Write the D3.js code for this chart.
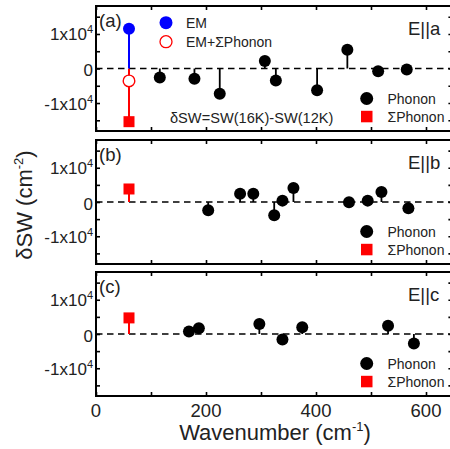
<!DOCTYPE html>
<html><head><meta charset="utf-8">
<script src="https://cdn.jsdelivr.net/npm/d3@7"></script>
<style>body{margin:0;background:#fff}svg{display:block;font-family:"Liberation Sans",Arial,sans-serif}</style>
</head><body>
<svg id="c" width="450" height="449"></svg>
<script>
// Data (values in units of 1e4 cm^-2)
const xTickValues = [0, 200, 400, 600];
const yTickLabels = ["-1x10", "0", "1x10"];
const yTickValues = [-1, 0, 1];
const panelLabels = ["(a)", "(b)", "(c)"];
const polLabels = ["E||a", "E||b", "E||c"];
const phononXa = [116, 179, 225, 307, 327, 402, 457, 513, 565];
const phononYa = [-0.26, -0.30, -0.73, 0.22, -0.35, -0.63, 0.54, -0.08, -0.03];
const phononXb = [204, 262, 286, 324, 339, 359, 460, 494, 519, 568];
const phononYb = [-0.24, 0.24, 0.24, -0.39, 0.04, 0.41, -0.01, 0.04, 0.29, -0.18];
const phononXc = [169, 187, 297, 339, 375, 531, 578];
const phononYc = [0.07, 0.17, 0.29, -0.16, 0.20, 0.24, -0.28];
const sumX = 60;
const sumPhonon = [-1.54, 0.38, 0.47];
const emValue = 1.15;
const emPlusValue = -0.36;

const svg = d3.select("#c");
const x = d3.scaleLinear().domain([0, 648]).range([96, 452.4]);
const panels = [
  {top: 6, bottom: 131, px: phononXa, py: phononYa},
  {top: 140, bottom: 264, px: phononXb, py: phononYb},
  {top: 272, bottom: 396, px: phononXc, py: phononYc}
];
const red = "#ff0000", blue = "#0000ff";

panels.forEach((p, i) => {
  const y = d3.scaleLinear().domain([-1.81, 1.81]).range([p.bottom, p.top]);
  const g = svg.append("g");
  g.append("line").attr("x1", x(0)).attr("x2", x(648)).attr("y1", y(0)).attr("y2", y(0))
    .attr("stroke", "#000").attr("stroke-width", 1.6).attr("stroke-dasharray", "6.5,4.5");
  const minorY = d3.range(-1.5, 1.51, 0.5);
  const axL = d3.axisLeft(y).tickValues(minorY).tickSize(-4).tickFormat("");
  const axR = d3.axisRight(y).tickValues(minorY).tickSize(-4).tickFormat("");
  const minorX = d3.range(0, 648, 100);
  const axB = d3.axisBottom(x).tickValues(minorX).tickSize(-4).tickFormat("");
  const axT = d3.axisTop(x).tickValues(minorX).tickSize(-4).tickFormat("");
  [[axL, `translate(${x(0)},0)`], [axR, `translate(${x(648)},0)`],
   [axB, `translate(0,${p.bottom})`], [axT, `translate(0,${p.top})`]].forEach(([ax, tr]) => {
    const a = g.append("g").attr("transform", tr).call(ax);
    a.select(".domain").remove();
    a.selectAll("line").attr("stroke", "#000").attr("stroke-width", 1.6);
  });
  g.append("rect").attr("x", x(0)).attr("y", p.top).attr("width", x(648) - x(0)).attr("height", p.bottom - p.top)
    .attr("fill", "none").attr("stroke", "#000").attr("stroke-width", 2);
  yTickValues.forEach((v, k) => {
    const t = g.append("text").attr("x", 93).attr("y", y(v) + (v === 0 ? 7.5 : 6.5))
      .attr("text-anchor", "end").attr("font-size", 17).attr("fill", "#222").text(yTickLabels[k]);
    if (v !== 0) t.append("tspan").attr("dy", -7).attr("font-size", 11).text("4");
  });
  g.append("text").attr("x", 99).attr("y", p.top + 21).attr("font-size", 18.5).attr("fill", "#222").text(panelLabels[i]);
  g.append("text").attr("x", 408).attr("y", p.top + 29).attr("font-size", 18.5).attr("fill", "#222").text(polLabels[i]);
  p.px.forEach((xv, k) => {
    g.append("line").attr("x1", x(xv)).attr("x2", x(xv)).attr("y1", y(0)).attr("y2", y(p.py[k]))
      .attr("stroke", "#000").attr("stroke-width", 1.8);
  });
  p.px.forEach((xv, k) => {
    g.append("circle").attr("cx", x(xv)).attr("cy", y(p.py[k])).attr("r", 6).attr("fill", "#000");
  });
  g.append("line").attr("x1", x(sumX)).attr("x2", x(sumX)).attr("y1", y(0)).attr("y2", y(sumPhonon[i]))
    .attr("stroke", red).attr("stroke-width", 2);
  if (i === 0) {
    g.append("line").attr("x1", x(sumX)).attr("x2", x(sumX)).attr("y1", y(0)).attr("y2", y(emValue))
      .attr("stroke", blue).attr("stroke-width", 2);
    g.append("circle").attr("cx", x(sumX)).attr("cy", y(emValue)).attr("r", 6).attr("fill", blue);
    g.append("circle").attr("cx", x(sumX)).attr("cy", y(emPlusValue)).attr("r", 5.8)
      .attr("fill", "#fff").attr("stroke", red).attr("stroke-width", 1.4);
  }
  g.append("rect").attr("x", x(sumX) - 5.5).attr("y", y(sumPhonon[i]) - 5.5).attr("width", 11).attr("height", 11).attr("fill", red);
  const ly = p.bottom - 32.5;
  g.append("circle").attr("cx", 366.7).attr("cy", ly).attr("r", 6.5).attr("fill", "#000");
  g.append("text").attr("x", 387.5).attr("y", ly + 5.3).attr("font-size", 14).attr("fill", "#222").text("Phonon");
  g.append("rect").attr("x", 361).attr("y", ly + 12.3).attr("width", 11.5).attr("height", 11.5).attr("fill", red);
  g.append("text").attr("x", 387.5).attr("y", ly + 23).attr("font-size", 14).attr("fill", "#222").text("ΣPhonon");
});

svg.append("circle").attr("cx", 166).attr("cy", 22.7).attr("r", 6.5).attr("fill", blue);
svg.append("text").attr("x", 186).attr("y", 28.3).attr("font-size", 14).attr("fill", "#222").text("EM");
svg.append("circle").attr("cx", 166).attr("cy", 41.7).attr("r", 6).attr("fill", "#fff").attr("stroke", red).attr("stroke-width", 1.3);
svg.append("text").attr("x", 186).attr("y", 46.8).attr("font-size", 14).attr("fill", "#222").text("EM+ΣPhonon");
svg.append("text").attr("x", 170).attr("y", 123.3).attr("font-size", 14.6).attr("fill", "#222").text("δSW=SW(16K)-SW(12K)");

xTickValues.forEach(v => {
  svg.append("text").attr("x", x(v)).attr("y", 417).attr("text-anchor", "middle").attr("font-size", 18.5).attr("fill", "#222").text(v);
});
const xt = svg.append("text").attr("x", 275).attr("y", 440).attr("text-anchor", "middle").attr("font-size", 22).attr("fill", "#222").text("Wavenumber (cm");
xt.append("tspan").attr("dy", -9).attr("font-size", 13).text("-1");
xt.append("tspan").attr("dy", 9).text(")");
const yt = svg.append("text").attr("transform", "translate(32,205) rotate(-90)").attr("text-anchor", "middle").attr("font-size", 22).attr("fill", "#222").text("δSW (cm");
yt.append("tspan").attr("dy", -9).attr("font-size", 13).text("-2");
yt.append("tspan").attr("dy", 9).text(")");
</script>
</body></html>
